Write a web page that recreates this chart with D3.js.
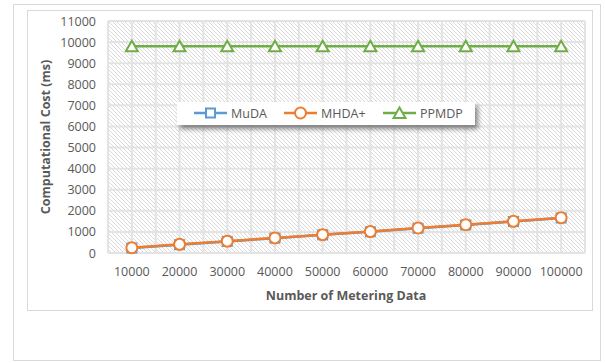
<!DOCTYPE html>
<html lang="en">
<head>
<meta charset="utf-8">
<title>computational cost</title>
<script src="https://d3js.org/d3.v7.min.js"></script>
<style>
  body{margin:0;background:#fff;font-family:"Open Sans",sans-serif;}
</style>
</head>
<body>
<div id="chart1"></div>
<script>
// data
var categories = [10000,20000,30000,40000,50000,60000,70000,80000,90000,100000]
var muda  = [235,395,550,705,860,1005,1175,1330,1490,1660]
var mhda  = [250,410,560,715,870,1015,1185,1340,1500,1670]
var ppmdp = [9800,9800,9800,9800,9800,9800,9800,9800,9800,9800]
var yTicks = [0,1000,2000,3000,4000,5000,6000,7000,8000,9000,10000,11000]
var seriesNames = ["MuDA","MHDA+","PPMDP"]
var seriesColors = ["#5b9bd5","#ed7d31","#70ad47"]
var seriesShapes = ["square","circle","triangle"]
var seriesValues = [muda,mhda,ppmdp]

var w = 605, h = 363
var m = {left:108, right:20, top:21, bottom:110}
var pw = 585 - m.left, ph = 253 - m.top

var svg = d3.select("#chart1").append("svg").attr("width",w).attr("height",h)

// outer and inner frames
svg.append("rect").attr("x",13.5).attr("y",4.5).attr("width",587).attr("height",356)
  .attr("fill","#fff").attr("stroke","#d9d9d9")
svg.append("rect").attr("x",27.5).attr("y",10.5).attr("width",565).attr("height",300)
  .attr("fill","#fff").attr("stroke","#d9d9d9")

// hatch pattern for plot area
var defs = svg.append("defs")
var pat = defs.append("pattern").attr("id","hatch").attr("patternUnits","userSpaceOnUse")
  .attr("width",4).attr("height",4)
pat.append("rect").attr("width",4).attr("height",4).attr("fill","#fff")
pat.append("path").attr("d","M-1,-1 L5,5 M-1,3 L1,5 M3,-1 L5,1").attr("stroke","#d9d9d9").attr("stroke-width",1)
var shadow = defs.append("filter").attr("id","shadow").attr("x","-10%").attr("y","-30%").attr("width","130%").attr("height","200%")
shadow.append("feDropShadow").attr("dx",3).attr("dy",4).attr("stdDeviation",2.5).attr("flood-color","#000").attr("flood-opacity",0.45)

var g = svg.append("g").attr("transform","translate("+m.left+","+m.top+")")

var xScale = d3.scaleBand().domain(categories).range([0,pw])
var xPoint = function(d){ return xScale(d) + xScale.bandwidth()/2 }
var yScale = d3.scaleLinear().domain([0,11000]).range([ph,0])

g.append("rect").attr("width",pw).attr("height",ph).attr("fill","url(#hatch)")

// vertical gridlines at band edges and centres
var vlines = []
categories.forEach(function(c){ vlines.push(xScale(c)); vlines.push(xPoint(c)) })
vlines.push(pw)
g.selectAll(".vgrid").data(vlines).enter().append("line").attr("class","vgrid")
  .attr("x1",function(d){return d}).attr("x2",function(d){return d})
  .attr("y1",0).attr("y2",ph).attr("stroke","#e3e3e3").attr("stroke-width",2)
g.selectAll(".hgrid").data(yTicks).enter().append("line").attr("class","hgrid")
  .attr("x1",0).attr("x2",pw)
  .attr("y1",function(d){return yScale(d)}).attr("y2",function(d){return yScale(d)})
  .attr("stroke","#e3e3e3").attr("stroke-width",2)

// axes (labels only)
g.append("g").call(d3.axisLeft(yScale).tickValues(yTicks).tickFormat(d3.format("d")).tickSize(0).tickPadding(12))
g.append("g").attr("transform","translate(0,"+ph+")")
  .call(d3.axisBottom(xScale).tickFormat(d3.format("d")).tickSize(0).tickPadding(14))
svg.selectAll(".domain").remove()
svg.selectAll(".tick text").attr("fill","#595959").style("font-size","12.5px").style("font-family","Open Sans")

// axis titles
svg.append("text").attr("x",346).attr("y",300).attr("text-anchor","middle")
  .attr("fill","#595959").style("font-size","12.5px").style("font-weight","bold").text("Number of Metering Data")
svg.append("text").attr("transform","translate(50,137) rotate(-90)").attr("text-anchor","middle")
  .attr("fill","#595959").style("font-size","12.5px").style("font-weight","bold").text("Computational Cost (ms)")

function drawMarker(sel, shape, color){
  if(shape=="square"){
    sel.append("rect").attr("x",-4.5).attr("y",-4.5).attr("width",9).attr("height",9)
      .attr("fill","#fff").attr("stroke",color).attr("stroke-width",2)
  }else if(shape=="circle"){
    sel.append("circle").attr("r",5.5).attr("fill","#fff").attr("stroke",color).attr("stroke-width",2)
  }else{
    sel.append("path").attr("d","M0,-5.5 L6,5 L-6,5 Z").attr("fill","#fff").attr("stroke",color).attr("stroke-width",2)
  }
}

var line = d3.line().x(function(d,i){return xPoint(categories[i])}).y(function(d){return yScale(d)})

seriesValues.forEach(function(vals,k){
  g.append("path").datum(vals).attr("d",line).attr("fill","none")
    .attr("stroke",seriesColors[k]).attr("stroke-width",2.5)
  g.selectAll(".pt"+k).data(vals).enter().append("g").attr("class","pt"+k)
    .attr("transform",function(d,i){return "translate("+xPoint(categories[i])+","+yScale(d)+")"})
    .each(function(){ drawMarker(d3.select(this),seriesShapes[k],seriesColors[k]) })
})

// legend
var leg = svg.append("g").attr("transform","translate(177,102)")
leg.append("rect").attr("width",298).attr("height",23).attr("fill","#fff").attr("filter","url(#shadow)")
var legX = [17,107,206]
seriesNames.forEach(function(name,k){
  var it = leg.append("g").attr("transform","translate("+legX[k]+",11)")
  it.append("line").attr("x1",0).attr("x2",33).attr("stroke",seriesColors[k]).attr("stroke-width",2.5)
  var mk = it.append("g").attr("transform","translate(16.5,0)")
  drawMarker(mk,seriesShapes[k],seriesColors[k])
  it.append("text").attr("x",37).attr("y",4.5).attr("fill","#595959").style("font-size","12.5px").text(name)
})
</script>
</body>
</html>
